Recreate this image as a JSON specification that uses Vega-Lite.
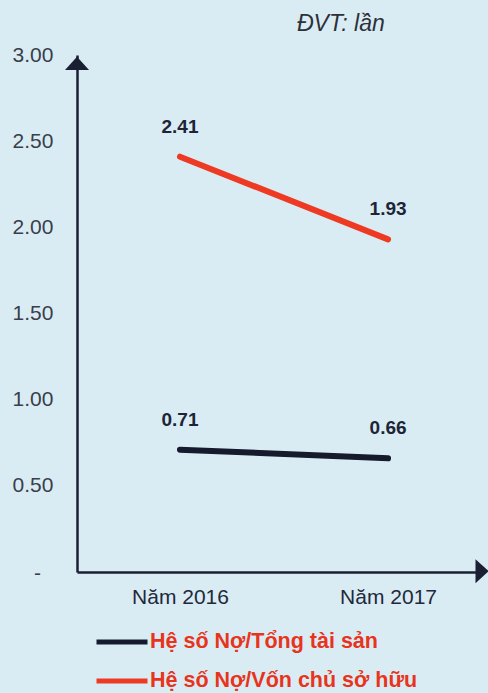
{
  "$schema": "https://vega.github.io/schema/vega-lite/v6.json",
  "autosize": {"type": "none"},
  "padding": {"left": 77, "top": 55, "right": 3, "bottom": 121},
  "width": 408,
  "height": 517,
  "background": "#d9ecf4",
  "title": {
    "text": "ĐVT: lần",
    "anchor": "start",
    "frame": "group",
    "dx": 220,
    "offset": 8,
    "font": "Liberation Sans",
    "fontSize": 23,
    "fontStyle": "italic",
    "fontWeight": "normal",
    "color": "#2e3038"
  },
  "datasets": {
    "ratios": [
      {"year": 2016, "series": "Hệ số Nợ/Tổng tài sản", "value": 0.71},
      {"year": 2017, "series": "Hệ số Nợ/Tổng tài sản", "value": 0.66},
      {"year": 2016, "series": "Hệ số Nợ/Vốn chủ sở hữu", "value": 2.41},
      {"year": 2017, "series": "Hệ số Nợ/Vốn chủ sở hữu", "value": 1.93}
    ],
    "arrows": [
      {"axis": "y", "year": 2015.505, "value": 2.951},
      {"axis": "x", "year": 2017.452, "value": 0.005}
    ],
    "zeroTick": [
      {"year": 2015.315, "value": 0, "label": "-"}
    ]
  },
  "encoding": {
    "x": {
      "field": "year",
      "type": "quantitative",
      "scale": {"domain": [2015.505, 2017.466], "nice": false, "zero": false},
      "axis": {
        "title": null,
        "values": [2016, 2017],
        "labelExpr": "'Năm ' + datum.value",
        "grid": false,
        "ticks": false,
        "tickSize": 0,
        "labelPadding": 14,
        "labelFont": "Liberation Sans",
        "labelFontSize": 21,
        "labelColor": "#23283a",
        "labelFlush": false,
        "labelOverlap": false,
        "domainColor": "#1b1f33",
        "domainWidth": 2.5
      }
    },
    "y": {
      "field": "value",
      "type": "quantitative",
      "scale": {"domain": [0, 3], "nice": false, "zero": true},
      "axis": {
        "title": null,
        "values": [0.5, 1, 1.5, 2, 2.5, 3],
        "format": ".2f",
        "grid": false,
        "ticks": false,
        "tickSize": 0,
        "labelAlign": "left",
        "labelBaseline": "middle",
        "labelPadding": 65,
        "labelFont": "Liberation Sans",
        "labelFontSize": 21,
        "labelColor": "#3a3e4a",
        "labelOverlap": false,
        "labelFlush": false,
        "domainColor": "#1b1f33",
        "domainWidth": 2.5
      }
    }
  },
  "layer": [
    {
      "data": {"name": "ratios"},
      "mark": {"type": "line", "strokeWidth": 6, "strokeCap": "round"},
      "encoding": {
        "color": {
          "field": "series",
          "type": "nominal",
          "sort": null,
          "scale": {
            "domain": ["Hệ số Nợ/Tổng tài sản", "Hệ số Nợ/Vốn chủ sở hữu"],
            "range": ["#151a2d", "#ee3a22"]
          },
          "legend": {
            "title": null,
            "orient": "none",
            "legendX": 17,
            "legendY": 559,
            "direction": "vertical",
            "symbolType": "stroke",
            "symbolSize": 2601,
            "symbolStrokeWidth": 5,
            "labelOffset": 0,
            "rowPadding": -18,
            "labelFont": "Liberation Sans",
            "labelFontSize": 21.5,
            "labelFontWeight": "bold",
            "labelColor": "#e8341c",
            "labelLimit": 400
          }
        }
      }
    },
    {
      "data": {"name": "ratios"},
      "mark": {
        "type": "text",
        "dy": -30,
        "baseline": "middle",
        "font": "Liberation Sans",
        "fontSize": 19,
        "fontWeight": "bold",
        "color": "#1e2436"
      },
      "encoding": {
        "text": {"field": "value", "type": "quantitative", "format": ".2f"}
      }
    },
    {
      "data": {"name": "zeroTick"},
      "mark": {
        "type": "text",
        "baseline": "middle",
        "align": "center",
        "dy": 2,
        "font": "Liberation Sans",
        "fontSize": 21,
        "color": "#3a3e4a"
      },
      "encoding": {
        "text": {"field": "label", "type": "nominal"}
      }
    },
    {
      "data": {"name": "arrows"},
      "mark": {"type": "point", "filled": true, "opacity": 1, "size": 576, "color": "#1b1f33"},
      "encoding": {
        "shape": {
          "field": "axis",
          "type": "nominal",
          "scale": {
            "domain": ["y", "x"],
            "range": ["M-1,0.55L0,-0.55L1,0.55Z", "M-0.55,-1L0.55,0L-0.55,1Z"]
          },
          "legend": null
        }
      }
    }
  ],
  "config": {
    "view": {"stroke": null}
  }
}
